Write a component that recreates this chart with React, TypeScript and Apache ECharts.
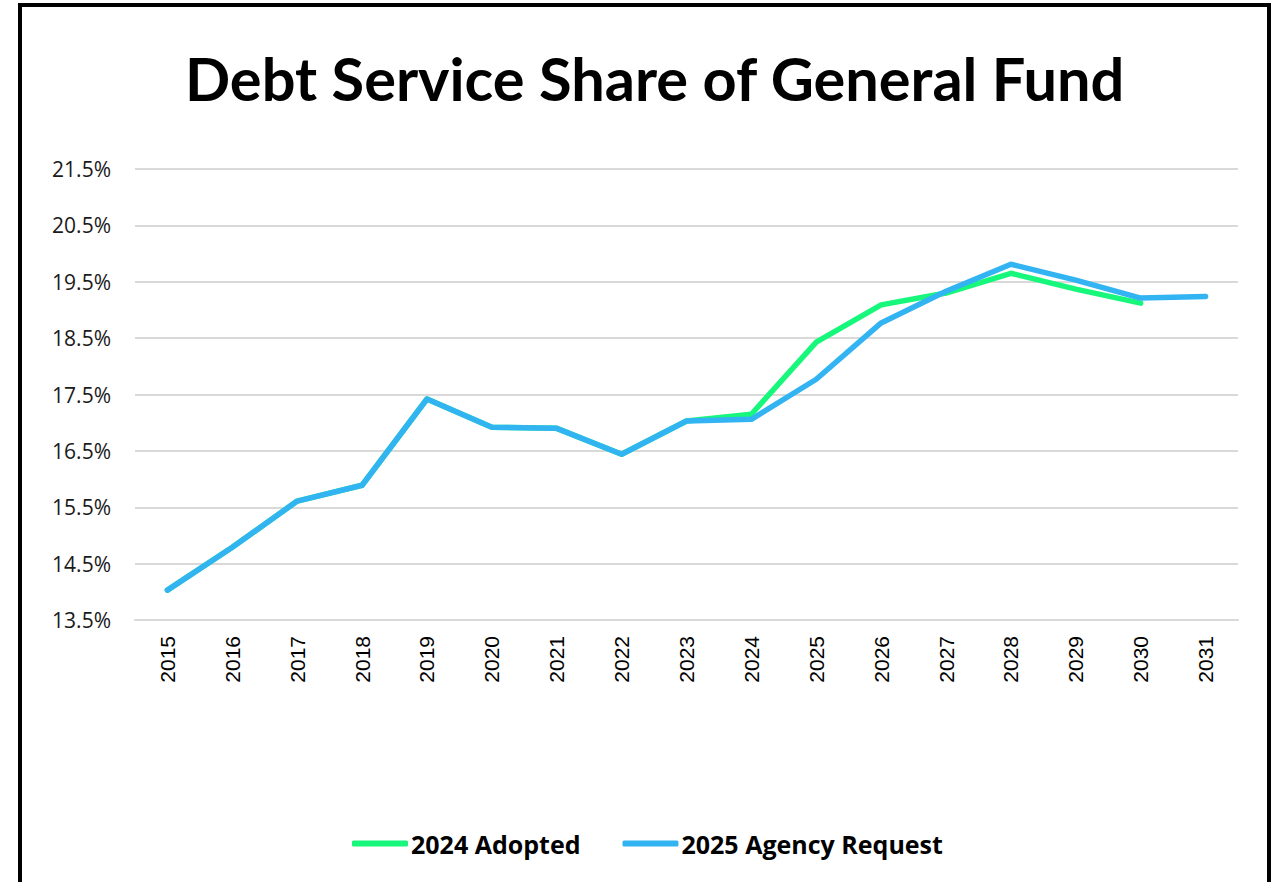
import React, { useEffect, useRef } from "react";
import * as echarts from "echarts";

const years = ["2015","2016","2017","2018","2019","2020","2021","2022","2023","2024","2025","2026","2027","2028","2029","2030","2031"];
const adopted2024 = [14.03,14.79,15.61,15.89,17.42,16.92,16.90,16.44,17.03,17.15,18.43,19.09,19.30,19.65,19.37,19.12,null];
const request2025 = [14.03,14.79,15.61,15.89,17.42,16.92,16.90,16.44,17.03,17.06,17.77,18.77,19.33,19.81,19.53,19.21,19.24];
const yMin = 13.5;
const yMax = 21.5;
const yStep = 1;

export default function App() {
  const ref = useRef<HTMLDivElement>(null);
  useEffect(() => {
    const chart = echarts.init(ref.current!, null, { renderer: "svg" });
    chart.setOption({
      animation: false,
      backgroundColor: "#ffffff",
      title: {
        text: "Debt Service Share of General Fund",
        left: 180,
        top: 43,
        textStyle: { fontFamily: "Lato", fontWeight: "bold", fontSize: 59.5, color: "#000" },
      },
      graphic: [
        {
          type: "rect",
          shape: { x: 20, y: 5, width: 1249, height: 920 },
          style: { fill: "none", stroke: "#000", lineWidth: 4 },
          z: 100,
        },
      ],
      legend: {
        bottom: 21,
        left: 347,
        itemWidth: 56,
        itemHeight: 6,
        itemGap: 42,
        icon: "roundRect",
        textStyle: { fontFamily: "Open Sans", fontWeight: "bold", fontSize: 25, color: "#000", padding: [0, 0, 0, -2] },
        data: ["2024 Adopted", "2025 Agency Request"],
      },
      grid: { left: 135, right: 43, top: 169, bottom: 262, containLabel: false },
      xAxis: {
        type: "category",
        data: years,
        boundaryGap: true,
        axisLine: { show: true, lineStyle: { color: "#d9d9d9", width: 2 } },
        axisTick: { show: false },
        axisLabel: { rotate: 90, fontFamily: "Liberation Sans", fontSize: 21, color: "#000", margin: 16 },
      },
      yAxis: {
        type: "value",
        min: yMin,
        max: yMax,
        interval: yStep,
        axisLine: { show: false },
        axisTick: { show: false },
        splitLine: { lineStyle: { color: "#d9d9d9", width: 2 } },
        axisLabel: {
          fontFamily: "Open Sans",
          fontSize: 21,
          color: "#1a1a1a",
          margin: 24,
          formatter: (v: number) => v.toFixed(1) + "%",
        },
      },
      series: [
        {
          name: "2024 Adopted",
          type: "line",
          data: adopted2024,
          showSymbol: false,
          symbol: "none",
          lineStyle: { color: "#17f77c", width: 5.5, cap: "round", join: "round" },
          itemStyle: { color: "#17f77c" },
        },
        {
          name: "2025 Agency Request",
          type: "line",
          data: request2025,
          showSymbol: false,
          symbol: "none",
          lineStyle: { color: "#33b4f2", width: 5.5, cap: "round", join: "round" },
          itemStyle: { color: "#33b4f2" },
        },
      ],
    });
    return () => chart.dispose();
  }, []);
  return <div ref={ref} style={{ position: "fixed", left: 0, top: 0, width: 1281, height: 882 }} />;
}
